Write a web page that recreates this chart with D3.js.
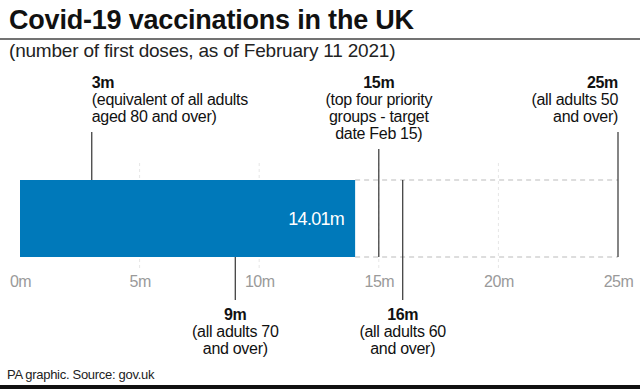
<!DOCTYPE html>
<html>
<head>
<meta charset="utf-8">
<script src="https://cdn.jsdelivr.net/npm/d3@7"></script>
<style>
  body { margin: 0; background: #fff; }
  text { font-family: "Liberation Sans", Arial, sans-serif; }
</style>
</head>
<body>
<div id="chart"></div>
<script>
// values
const tickValues = [0, 5, 10, 15, 20, 25];
const tickLabels = ["0m", "5m", "10m", "15m", "20m", "25m"];
const dosesGiven = 14.01;
const doseLabel = "14.01m";

const markerValues = [3, 15, 25, 9, 16];
const markerTitles = ["3m", "15m", "25m", "9m", "16m"];
const markerNotes = [
  ["(equivalent of all adults", "aged 80 and over)"],
  ["(top four priority", "groups - target", "date Feb 15)"],
  ["(all adults 50", "and over)"],
  ["(all adults 70", "and over)"],
  ["(all adults 60", "and over)"]
];

let width = 640, height = 389;
let barTop = 180, barBottom = 257;
let lineH = 17;

let svg = d3.select("#chart").append("svg")
  .attr("width", width)
  .attr("height", height);

let x = d3.scaleLinear().domain([0, 25]).range([20, 618]);

// title block
svg.append("text")
  .attr("x", 9).attr("y", 29)
  .style("font-size", "27px").style("font-weight", "bold")
  .style("letter-spacing", "-0.2px")
  .attr("fill", "#111")
  .text("Covid-19 vaccinations in the UK");

svg.append("line")
  .attr("x1", 0).attr("x2", width)
  .attr("y1", 39).attr("y2", 39)
  .attr("stroke", "#444").attr("stroke-width", 1.5);

svg.append("text")
  .attr("x", 9).attr("y", 57)
  .style("font-size", "19px")
  .style("letter-spacing", "-0.2px")
  .attr("fill", "#222")
  .text("(number of first doses, as of February 11 2021)");

// faint gridlines
svg.selectAll("line.grid")
  .data(tickValues.slice(1, -1))
  .enter().append("line")
  .attr("class", "grid")
  .attr("x1", d => x(d)).attr("x2", d => x(d))
  .attr("y1", 163).attr("y2", 270)
  .attr("stroke", "#e6e6e6")
  .attr("stroke-dasharray", "3,3");

// dashed outline of the remaining target
[barTop, barBottom].forEach(function (y) {
  svg.append("line")
    .attr("x1", x(dosesGiven)).attr("x2", x(25))
    .attr("y1", y).attr("y2", y)
    .attr("stroke", "#bbb")
    .attr("stroke-dasharray", "5,4");
});

svg.append("rect")
  .attr("x", x(0)).attr("y", barTop)
  .attr("width", x(dosesGiven) - x(0))
  .attr("height", barBottom - barTop)
  .attr("fill", "#0079ba");

svg.append("text")
  .attr("x", x(dosesGiven) - 11).attr("y", 225)
  .attr("text-anchor", "end")
  .style("font-size", "18px")
  .style("letter-spacing", "-0.7px")
  .attr("fill", "#fff")
  .text(doseLabel);

// axis
let axis = d3.axisBottom(x)
  .tickValues(tickValues)
  .tickSize(0)
  .tickFormat((d, i) => tickLabels[i]);

let axisG = svg.append("g")
  .attr("transform", "translate(0,270)")
  .call(axis);
axisG.select(".domain").remove();
axisG.selectAll("text")
  .attr("dy", "0")
  .attr("y", 17)
  .style("font-size", "16px")
  .style("letter-spacing", "-0.5px")
  .style("font-family", "'Liberation Sans', Arial, sans-serif")
  .attr("fill", "#9a9a9a");

// markers
markerValues.forEach(function (v, i) {
  let above = i < 3;
  let anchor = i === 0 ? "start" : (i === 2 ? "end" : "middle");
  let lines = [markerTitles[i]].concat(markerNotes[i]);
  let px = x(v);
  let y1, y2, firstBase;

  if (above) {
    firstBase = 88;
    let lastBase = firstBase + (lines.length - 1) * lineH;
    y1 = lastBase + 10;
    y2 = v < dosesGiven ? barTop : barBottom;
  } else {
    firstBase = 320;
    y1 = v < dosesGiven ? barBottom : barTop;
    y2 = 300;
  }

  svg.append("line")
    .attr("x1", px).attr("x2", px)
    .attr("y1", y1).attr("y2", y2)
    .attr("stroke", "#333").attr("stroke-width", 1.2);

  let t = svg.append("text")
    .attr("text-anchor", anchor)
    .attr("fill", "#111")
    .style("font-size", "16px")
    .style("letter-spacing", "-0.3px");

  lines.forEach(function (s, j) {
    t.append("tspan")
      .attr("x", px)
      .attr("y", firstBase + j * lineH)
      .style("font-weight", j === 0 ? "bold" : "normal")
      .text(s);
  });
});

// footer
svg.append("text")
  .attr("x", 7).attr("y", 379)
  .style("font-size", "13px")
  .style("letter-spacing", "-0.3px")
  .attr("fill", "#222")
  .text("PA graphic. Source: gov.uk");

svg.append("rect")
  .attr("x", 0).attr("y", 385)
  .attr("width", width).attr("height", 4)
  .attr("fill", "#111");
</script>
</body>
</html>
